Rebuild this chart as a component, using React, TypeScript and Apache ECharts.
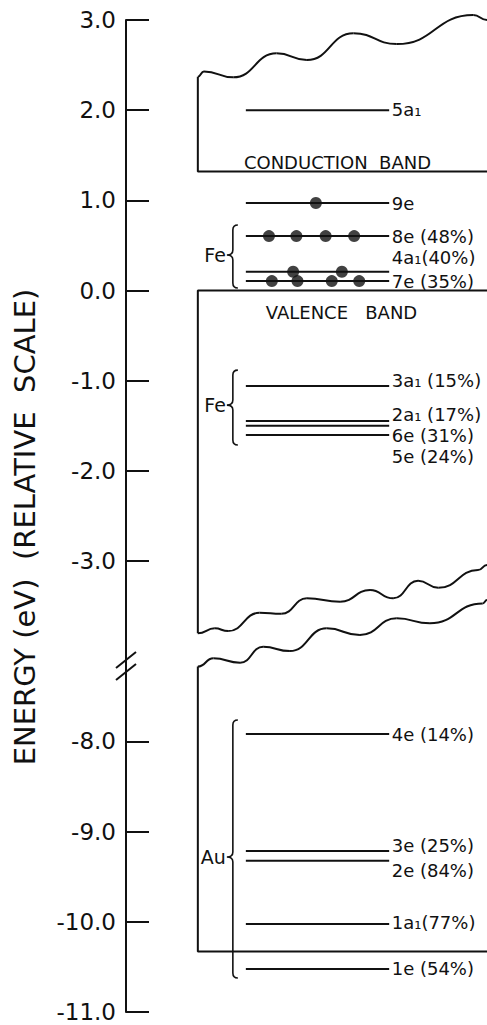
import React, { useEffect, useRef } from 'react';
import * as echarts from 'echarts';

// ---- axis (real energies in eV); values below BREAK_BELOW are drawn shifted up across the axis break
const tickEnergies = [3, 2, 1, 0, -1, -2, -3, -8, -9, -10, -11];
const BREAK_SHIFT = 3;
const BREAK_BELOW = -5;

// ---- molecular levels
const levelNames = ['5a1', '9e', '8e', '4a1', '7e', '3a1', '2a1', '6e', '5e', '4e', '3e', '2e', '1a1', '1e'];
const levelEnergies = [2.0, 0.97, 0.604, 0.208, 0.105, -1.059, -1.447, -1.499, -1.602, -7.918, -9.215, -9.323, -10.025, -10.524];

// ---- level labels
const labelTexts = ['5a₁', '9e', '8e (48%)', '4a₁(40%)', '7e (35%)', '3a₁ (15%)', '2a₁ (17%)', '6e (31%)', '5e (24%)', '4e (14%)', '3e (25%)', '2e (84%)', '1a₁(77%)', '1e (54%)'];
const labelEnergies = [2.01, 0.97, 0.604, 0.371, 0.105, -0.992, -1.37, -1.603, -1.836, -7.918, -9.149, -9.426, -10.003, -10.513];

// ---- electrons (dots) on levels
const dotLevels = ['9e', '8e', '8e', '8e', '8e', '4a1', '4a1', '7e', '7e', '7e', '7e'];
const dotPositions = [52.6, 39.6, 47.2, 55.3, 63.2, 46.3, 59.8, 40.4, 47.5, 57.0, 64.6];

// ---- band outlines [x, energy]; wave lists hold the crests and troughs of the wavy edges
const conductionEdge = [[100, 1.32], [19.9, 1.32], [19.9, 2.37]];
const conductionWave = [[19.9, 2.37], [21.6, 2.43], [29.7, 2.364], [41.7, 2.63], [50.1, 2.556], [63.0, 2.852], [75.0, 2.733], [96.2, 3.055], [100, 3.0]];
const valenceEdge = [[100, 0], [19.9, 0], [19.9, -3.8]];
const valenceWave = [[19.9, -3.8], [24.6, -3.746], [28.3, -3.776], [37.0, -3.573], [43.0, -3.585], [50.1, -3.413], [59.3, -3.451], [67.6, -3.321], [74.0, -3.413], [80.9, -3.218], [86.5, -3.296], [97.5, -3.1], [100, -3.044]];
const auWave = [[19.9, -7.17], [24.2, -7.078], [31.6, -7.127], [38.0, -6.95], [45.4, -6.998], [55.6, -6.746], [64.8, -6.82], [75.0, -6.635], [84.2, -6.69], [98.8, -6.469], [100, -6.432]];
const auEdge = [[19.9, -7.17], [19.9, -10.33], [100, -10.33]];

// ---- braces
const braceLabels = ['Fe', 'Fe', 'Au'];
const braceTop = [0.726, -0.882, -7.762];
const braceTip = [0.394, -1.27, -9.282];
const braceBottom = [0.028, -1.713, -10.623];

const toPlot = (e: number) => (e < BREAK_BELOW ? e + BREAK_SHIFT : e);
const fromPlot = (v: number) => (v < -4 ? v - BREAK_SHIFT : v);

const LINE_X0 = 33.2;
const LINE_X1 = 72.9;
const LABEL_X = 73.6;
const BRACE_X = 29.6;
const INK = '#111';
const FONT = '"DejaVu Sans", sans-serif';

export default function App() {
  const ref = useRef<HTMLDivElement>(null);
  useEffect(() => {
    if (!ref.current) return;
    const chart = echarts.init(ref.current, null, { renderer: 'svg' });
    const edge = (name: string, pts: number[][]) => ({
      name,
      type: 'line',
      data: pts.map((p) => [p[0], toPlot(p[1])]),
      showSymbol: false,
      symbol: 'none',
      clip: false,
      silent: true,
      lineStyle: { color: INK, width: 2 },
    });
    const wave = (name: string, pts: number[][]) => ({
      name,
      type: 'custom',
      coordinateSystem: 'cartesian2d',
      clip: false,
      silent: true,
      data: pts.slice(1).map((p, i) => [pts[i][0], toPlot(pts[i][1]), p[0], toPlot(p[1])]),
      encode: { x: [0, 2], y: [1, 3] },
      renderItem: (params: any, api: any) => {
        const a = api.coord([api.value(0), api.value(1)]);
        const b = api.coord([api.value(2), api.value(3)]);
        const mx = (a[0] + b[0]) / 2;
        return {
          type: 'bezierCurve',
          shape: { x1: a[0], y1: a[1], x2: b[0], y2: b[1], cpx1: mx, cpy1: a[1], cpx2: mx, cpy2: b[1] },
          style: { stroke: INK, lineWidth: 2, fill: null },
        };
      },
    });
    const tickPlot = tickEnergies.map(toPlot);
    chart.setOption({
      animation: false,
      grid: { left: 126, right: 0, top: 20, bottom: 13 },
      xAxis: { type: 'value', min: 0, max: 100, show: false },
      yAxis: {
        type: 'value',
        min: -8,
        max: 3,
        axisLine: { show: true, lineStyle: { color: INK, width: 2 } },
        axisTick: { show: true, inside: true, length: 23, customValues: tickPlot, lineStyle: { color: INK, width: 2 } },
        axisLabel: {
          customValues: tickPlot,
          formatter: (v: number) => fromPlot(v).toFixed(1),
          color: INK,
          fontSize: 23,
          fontFamily: FONT,
          margin: 10,
        },
        splitLine: { show: false },
      },
      series: [
        edge('conductionEdge', conductionEdge),
        wave('conductionWave', conductionWave),
        edge('valenceEdge', valenceEdge),
        wave('valenceWave', valenceWave),
        wave('auWave', auWave),
        edge('auEdge', auEdge),
        {
          name: 'levels',
          type: 'custom',
          coordinateSystem: 'cartesian2d',
          clip: false,
          silent: true,
          data: levelEnergies.map((e) => [LINE_X0, toPlot(e), LINE_X1]),
          encode: { x: [0, 2], y: 1 },
          renderItem: (params: any, api: any) => {
            const p0 = api.coord([api.value(0), api.value(1)]);
            const p1 = api.coord([api.value(2), api.value(1)]);
            return {
              type: 'line',
              shape: { x1: p0[0], y1: p0[1], x2: p1[0], y2: p1[1] },
              style: { stroke: INK, lineWidth: 2 },
            };
          },
        },
        {
          name: 'electrons',
          type: 'scatter',
          silent: true,
          symbolSize: 12,
          itemStyle: { color: INK },
          data: dotPositions.map((x, i) => [x, toPlot(levelEnergies[levelNames.indexOf(dotLevels[i])])]),
        },
        {
          name: 'labels',
          type: 'custom',
          coordinateSystem: 'cartesian2d',
          clip: false,
          silent: true,
          data: labelEnergies.map((e) => [LABEL_X, toPlot(e)]),
          renderItem: (params: any, api: any) => {
            const p = api.coord([api.value(0), api.value(1)]);
            return {
              type: 'text',
              x: p[0],
              y: p[1],
              style: {
                text: labelTexts[params.dataIndex],
                fill: INK,
                font: `18px ${FONT}`,
                align: 'left',
                verticalAlign: 'middle',
              },
            };
          },
        },
        {
          name: 'braces',
          type: 'custom',
          coordinateSystem: 'cartesian2d',
          clip: false,
          silent: true,
          data: braceTop.map((t, i) => [BRACE_X, toPlot(t), toPlot(braceTip[i]), toPlot(braceBottom[i])]),
          encode: { x: 0, y: [1, 2, 3] },
          renderItem: (params: any, api: any) => {
            const top = api.coord([api.value(0), api.value(1)]);
            const mid = api.coord([api.value(0), api.value(2)]);
            const bot = api.coord([api.value(0), api.value(3)]);
            const xs = top[0];
            const xe = xs + 5;
            const xt = xs - 6;
            const r = 5;
            const yT = top[1];
            const yM = mid[1];
            const yB = bot[1];
            const d = `M${xe},${yT} Q${xs},${yT} ${xs},${yT + r} L${xs},${yM - r} Q${xs},${yM} ${xt},${yM} Q${xs},${yM} ${xs},${yM + r} L${xs},${yB - r} Q${xs},${yB} ${xe},${yB}`;
            return {
              type: 'group',
              children: [
                { type: 'path', shape: { pathData: d }, style: { stroke: INK, lineWidth: 1.6, fill: null } },
                {
                  type: 'text',
                  x: xt - 1,
                  y: yM,
                  style: { text: braceLabels[params.dataIndex], fill: INK, font: `19px ${FONT}`, align: 'right', verticalAlign: 'middle' },
                },
              ],
            };
          },
        },
      ],
      graphic: [
        {
          type: 'text',
          x: 25,
          y: 527,
          rotation: Math.PI / 2,
          style: { text: 'ENERGY (eV)  (RELATIVE  SCALE)', fill: INK, font: `29px ${FONT}`, align: 'center', verticalAlign: 'middle' },
        },
        {
          type: 'text',
          x: 337.5,
          y: 162,
          style: { text: 'CONDUCTION  BAND', fill: INK, font: `18px ${FONT}`, align: 'center', verticalAlign: 'middle' },
        },
        {
          type: 'text',
          x: 341.5,
          y: 312,
          style: { text: 'VALENCE   BAND', fill: INK, font: `18px ${FONT}`, align: 'center', verticalAlign: 'middle' },
        },
        { type: 'line', shape: { x1: 116, y1: 668, x2: 136, y2: 652 }, style: { stroke: INK, lineWidth: 2 } },
        { type: 'line', shape: { x1: 116, y1: 680, x2: 136, y2: 664 }, style: { stroke: INK, lineWidth: 2 } },
      ],
    });
    return () => chart.dispose();
  }, []);
  return <div ref={ref} style={{ position: 'absolute', left: 0, top: 0, width: 487, height: 1025, background: '#fff' }} />;
}
